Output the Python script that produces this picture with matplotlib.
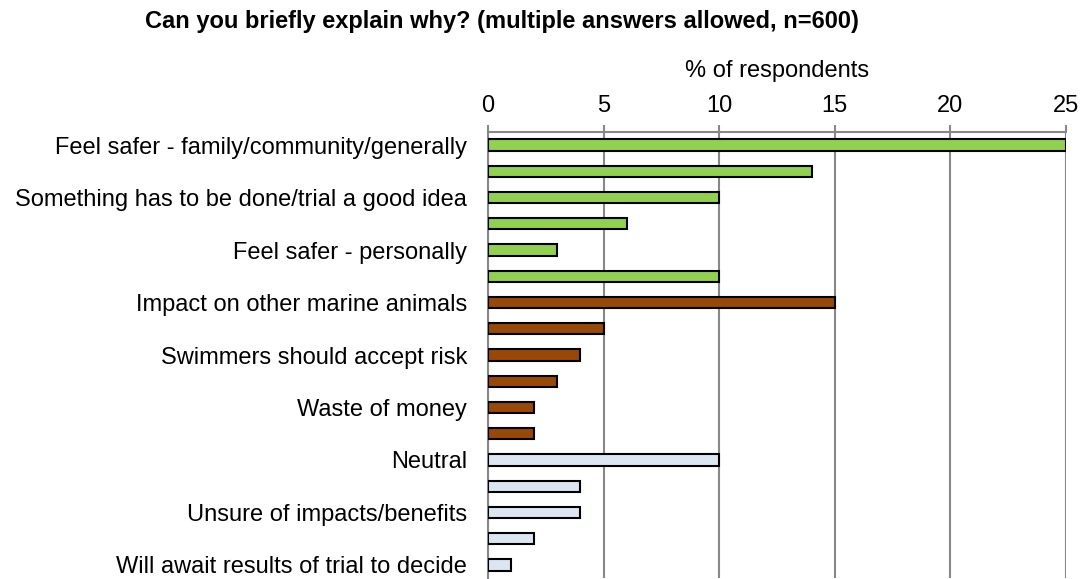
import matplotlib.pyplot as plt
import numpy as np

plt.rcParams['font.family'] = ['Liberation Sans', 'DejaVu Sans']

# answers, top to bottom (only every other one is labelled in the original)
labels = ["Feel safer - family/community/generally", "",
          "Something has to be done/trial a good idea", "",
          "Feel safer - personally", "",
          "Impact on other marine animals", "",
          "Swimmers should accept risk", "",
          "Waste of money", "",
          "Neutral", "",
          "Unsure of impacts/benefits", "",
          "Will await results of trial to decide"]
values = [25, 14, 10, 6, 3, 10,
          15, 5, 4, 3, 2, 2,
          10, 4, 4, 2, 1]
groups = ["pos"] * 6 + ["neg"] * 6 + ["neu"] * 5
group_colors = {"pos": "#92D050", "neg": "#984807", "neu": "#DCE6F2"}

fig = plt.figure(figsize=(10.83, 5.79), dpi=100)
ax = fig.add_axes([0.4506, 0.0017, 0.5337, 0.7703])

y = np.arange(len(values))
ax.barh(y, values, height=0.43, color=[group_colors[g] for g in groups],
        edgecolor="black", linewidth=1.5, zorder=3)

ax.set_ylim(len(values) - 0.5, -0.5)
ax.set_xlim(0, 25)
ax.set_yticks(y)
ax.set_yticklabels(labels, fontsize=17)
ax.tick_params(axis="y", length=0, pad=15)

ax.xaxis.tick_top()
ax.xaxis.set_label_position("top")
ax.set_xticks([0, 5, 10, 15, 20, 25])
ax.tick_params(axis="x", labelsize=17, length=5, width=1.5, color="#888888", pad=5.5)
ax.set_xlabel("% of respondents", fontsize=17, labelpad=13)

ax.grid(axis="x", color="#888888", linewidth=1.5, zorder=0)
for s in ["right", "bottom"]:
    ax.spines[s].set_visible(False)
ax.spines["top"].set_color("#888888")
ax.spines["top"].set_linewidth(1.5)
ax.spines["left"].set_color("#888888")
ax.spines["left"].set_linewidth(1.5)

fig.text(0.4635, 0.9516, "Can you briefly explain why? (multiple answers allowed, n=600)",
         ha="center", va="baseline", fontsize=17, fontweight="bold")

fig.savefig("out.png", dpi=100)
